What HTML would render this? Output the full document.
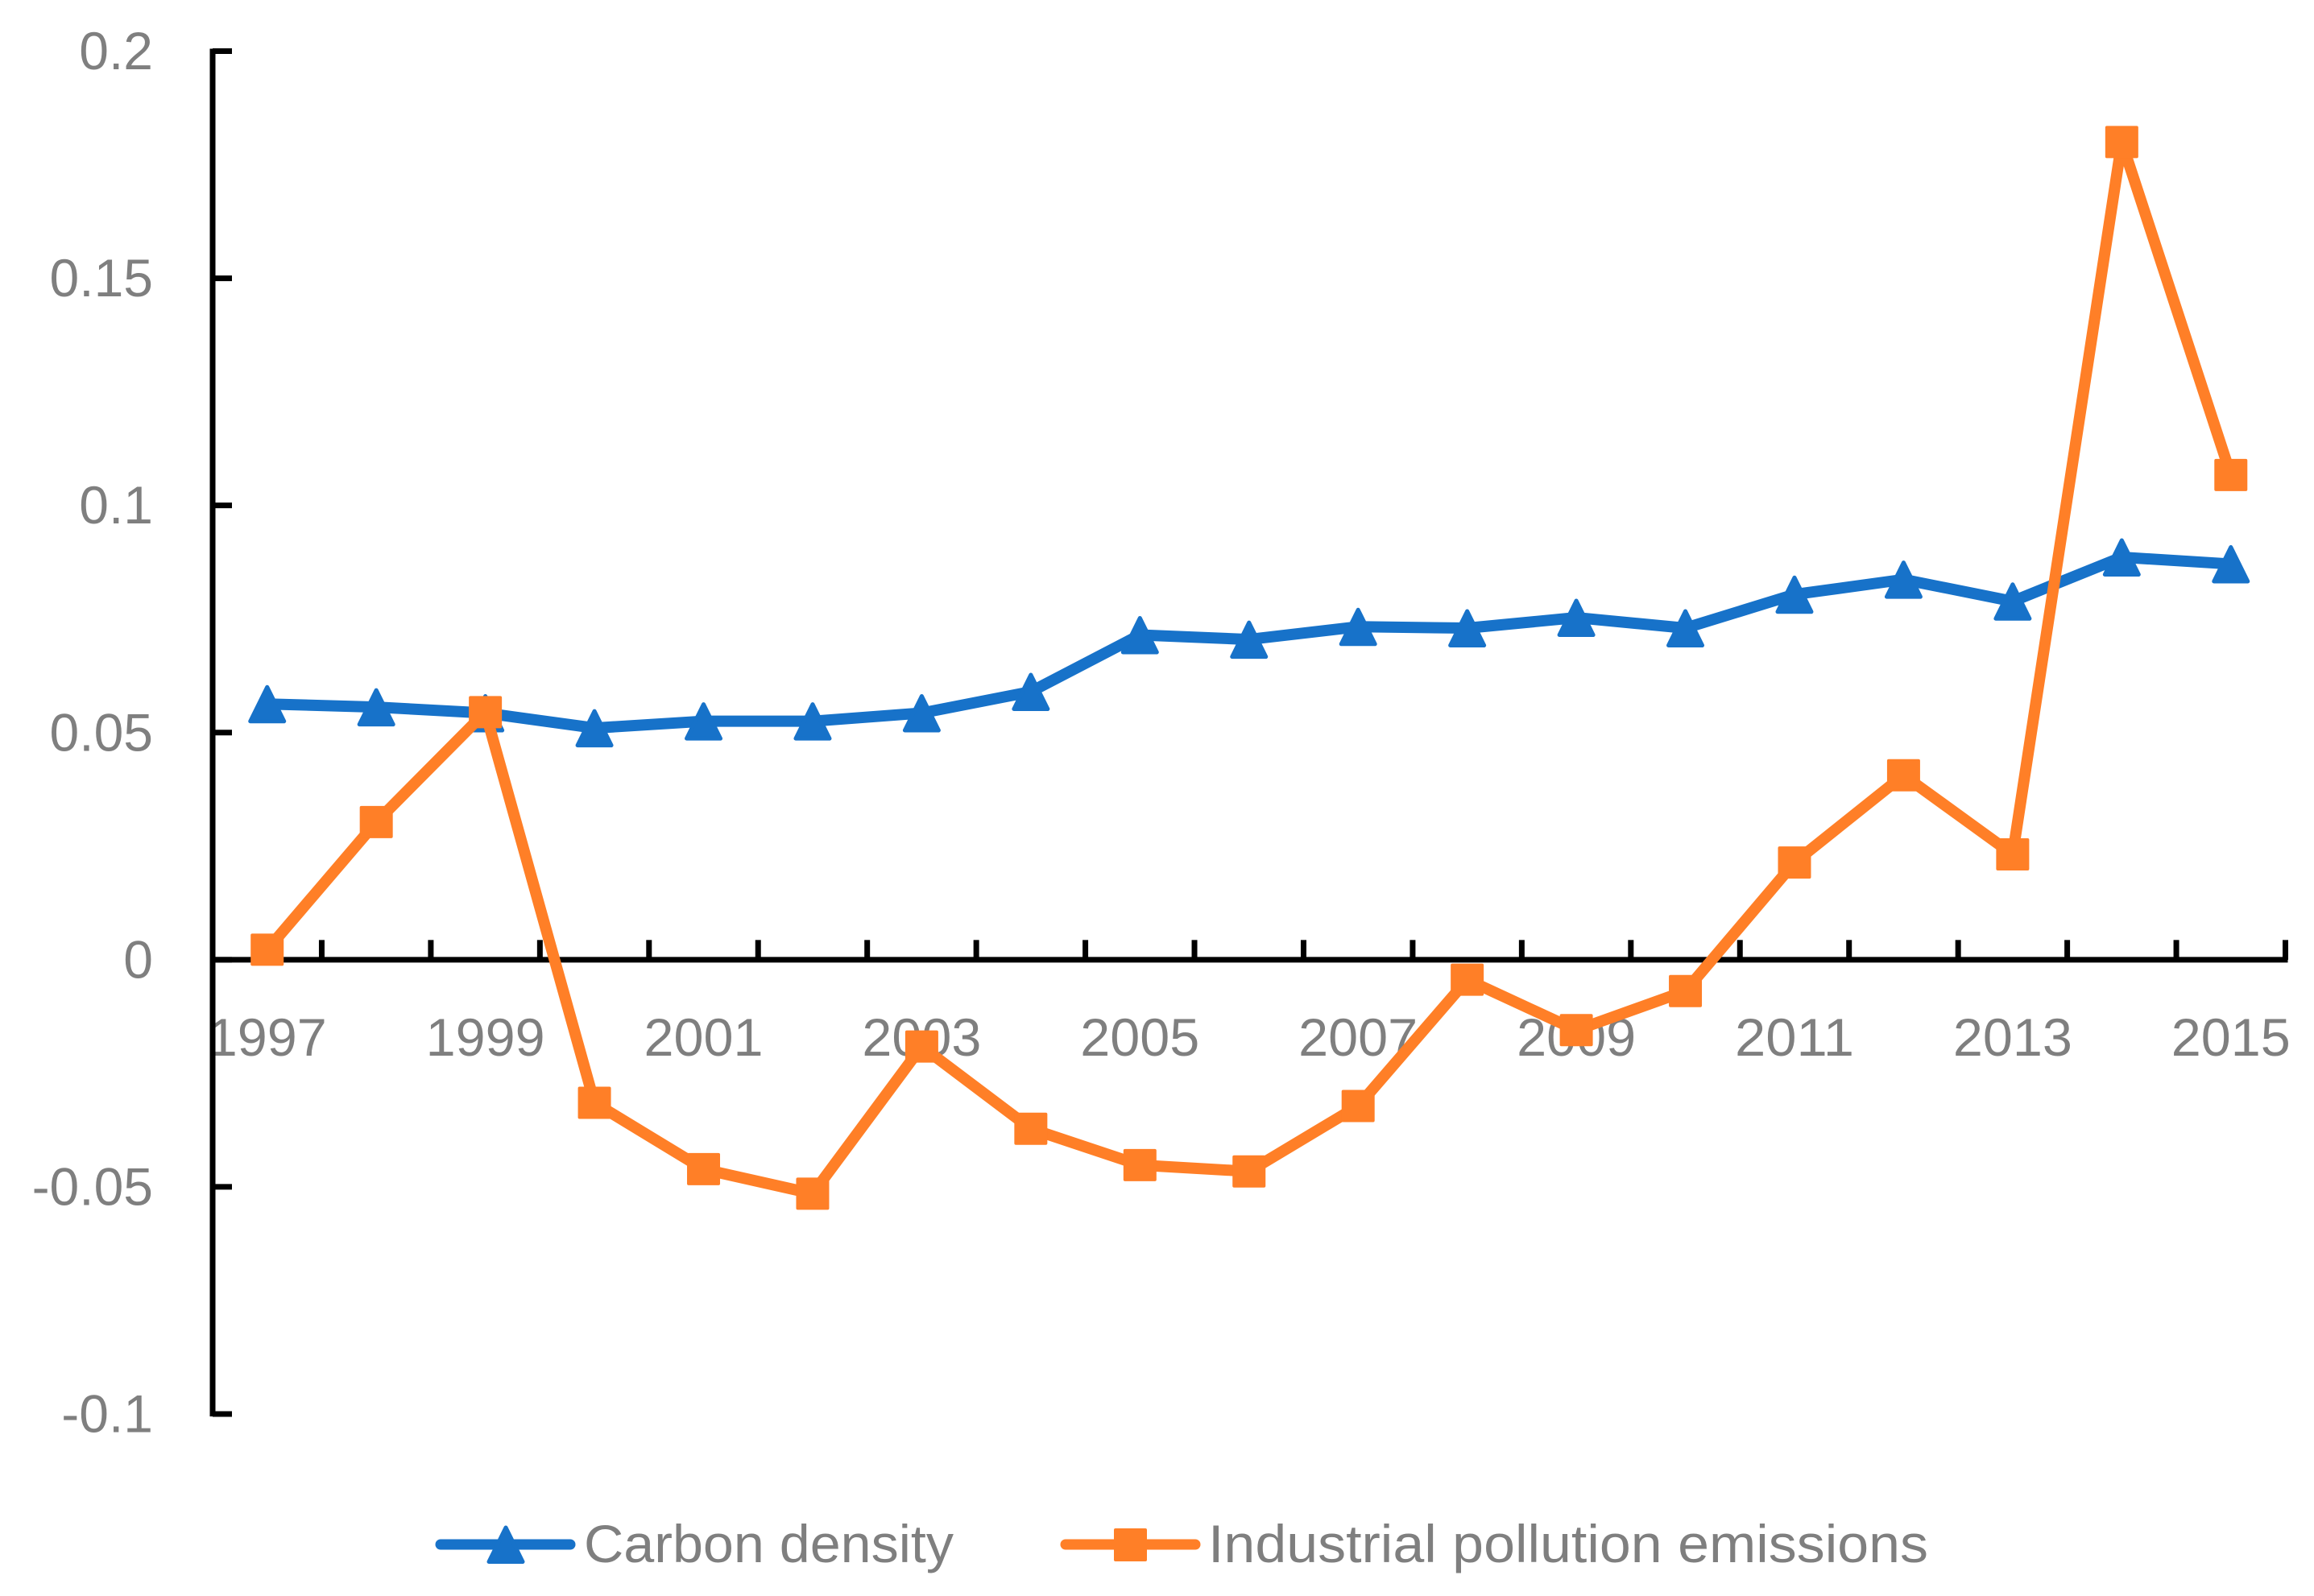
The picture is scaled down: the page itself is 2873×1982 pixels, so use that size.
<!DOCTYPE html>
<html lang="en">
<head>
<meta charset="utf-8">
<title>Carbon density and industrial pollution emissions</title>
<style>
html,body{margin:0;padding:0;background:#fff;}
svg{display:block;}
text{font-family:"Liberation Sans",sans-serif;font-size:66px;fill:#7f7f7f;}
</style>
</head>
<body>
<svg id="chart" width="2873" height="1982" viewBox="0 0 2873 1982" xmlns="http://www.w3.org/2000/svg"></svg>
<script>
const years = [1997,1998,1999,2000,2001,2002,2003,2004,2005,2006,2007,2008,2009,2010,2011,2012,2013,2014,2015];
const carbonDensity = [0.0563,0.0556,0.0543,0.0510,0.0525,0.0525,0.0543,0.0590,0.0715,0.0705,0.0733,0.0730,0.0753,0.0730,0.0804,0.0837,0.0789,0.0886,0.0871];
const industrialPollution = [0.0022,0.0303,0.0545,-0.0315,-0.0461,-0.0515,-0.0191,-0.0372,-0.0452,-0.0466,-0.0322,-0.0044,-0.0155,-0.0069,0.0214,0.0406,0.0232,0.1800,0.1067];
const yTicks = [0.2,0.15,0.1,0.05,0,-0.05,-0.1];
const yTickLabels = ["0.2","0.15","0.1","0.05","0","-0.05","-0.1"];
const seriesNames = ["Carbon density","Industrial pollution emissions"];

const svg = document.getElementById('chart');
const NS = 'http://www.w3.org/2000/svg';
const left = 264, right = 2837.5, top0 = 63.5, bottom0 = 1756;
const yMax = 0.2, yMin = -0.1;
const band = (right - left) / years.length;
function xBand(i){ return left + band * i; }
function xPos(i){ return left + band * (i + 0.5); }
function yPos(v){ return top0 + (yMax - v) / (yMax - yMin) * (bottom0 - top0); }
function make(tag, attrs, parent){
  const el = document.createElementNS(NS, tag);
  for (const k in attrs) el.setAttribute(k, attrs[k]);
  (parent || svg).appendChild(el);
  return el;
}
function triPoints(cx, cy){
  return (cx) + ',' + (cy - 21) + ' ' + (cx + 21) + ',' + (cy + 21.5) + ' ' + (cx - 21) + ',' + (cy + 21.5);
}
const BLUE = '#1772c9', ORANGE = '#ff7f27';

/* tick labels */
const yLabelGroup = make('g', {});


yTicks.forEach(function(v, i){
  const t = make('text', {x: 190, y: yPos(v) + 22.5, 'text-anchor': 'end'}, yLabelGroup);
  
  
  t.textContent = yTickLabels[i];
});
const xLabelGroup = make('g', {});


years.forEach(function(year, i){
  if (i % 2 !== 0) return;
  const t = make('text', {x: xPos(i), y: 1311, 'text-anchor': 'middle', textLength: 148, lengthAdjust: 'spacingAndGlyphs'}, xLabelGroup);
  
  
  t.textContent = year;
});

/* axes */
const axes = make('g', {stroke: '#000', 'stroke-width': 7, fill: 'none'});


const yAxis = make('line', {x1: left, x2: left, y1: top0 - 3, y2: bottom0 + 3}, axes);


const xAxis = make('line', {x1: left, x2: right + 3, y1: yPos(0), y2: yPos(0)}, axes);


yTicks.forEach(function(v){
  const l = make('line', {x1: left, x2: 288, y1: yPos(v), y2: yPos(v)}, axes);
  
  
});
for (let i = 1; i <= years.length; i++){
  const l = make('line', {x1: xBand(i), x2: xBand(i), y1: yPos(0), y2: yPos(0) - 24.5}, axes);
  
  
}

/* carbon density series */
const blueGroup = make('g', {});


const blueLine = make('polyline', {
  points: carbonDensity.map(function(v, i){ return xPos(i) + ',' + yPos(v); }).join(' '),
  fill: 'none', stroke: BLUE, 'stroke-width': 14, 'stroke-linejoin': 'round', 'stroke-linecap': 'round'
}, blueGroup);


carbonDensity.forEach(function(v, i){
  const p = make('polygon', {points: triPoints(xPos(i), yPos(v)), fill: BLUE, stroke: BLUE, 'stroke-width': 5, 'stroke-linejoin': 'round'}, blueGroup);
  
  
});

/* industrial pollution series */
const orangeGroup = make('g', {});


const orangeLine = make('polyline', {
  points: industrialPollution.map(function(v, i){ return xPos(i) + ',' + yPos(v); }).join(' '),
  fill: 'none', stroke: ORANGE, 'stroke-width': 14, 'stroke-linejoin': 'round', 'stroke-linecap': 'round'
}, orangeGroup);


industrialPollution.forEach(function(v, i){
  const r = make('rect', {x: xPos(i) - 20.5, y: yPos(v) - 20, width: 41, height: 40, rx: 2, fill: ORANGE}, orangeGroup);
  
  
});

/* legend */
const legend = make('g', {});


const legendCarbon = make('g', {}, legend);


const lb = make('line', {x1: 547, x2: 708, y1: 1918, y2: 1918, stroke: BLUE, 'stroke-width': 13, 'stroke-linecap': 'round'}, legendCarbon);


const lbm = make('polygon', {points: triPoints(628, 1918), fill: BLUE, stroke: BLUE, 'stroke-width': 5, 'stroke-linejoin': 'round'}, legendCarbon);


const lbt = make('text', {x: 725, y: 1940, textLength: 459, lengthAdjust: 'spacingAndGlyphs'}, legendCarbon);


lbt.textContent = seriesNames[0];

const legendIndustrial = make('g', {}, legend);


const lo = make('line', {x1: 1323, x2: 1484, y1: 1918, y2: 1918, stroke: ORANGE, 'stroke-width': 13, 'stroke-linecap': 'round'}, legendIndustrial);


const lom = make('rect', {x: 1383, y: 1898, width: 41, height: 41, rx: 2, fill: ORANGE}, legendIndustrial);


const lot = make('text', {x: 1500, y: 1940, textLength: 894, lengthAdjust: 'spacingAndGlyphs'}, legendIndustrial);


lot.textContent = seriesNames[1];
</script>
</body>
</html>
